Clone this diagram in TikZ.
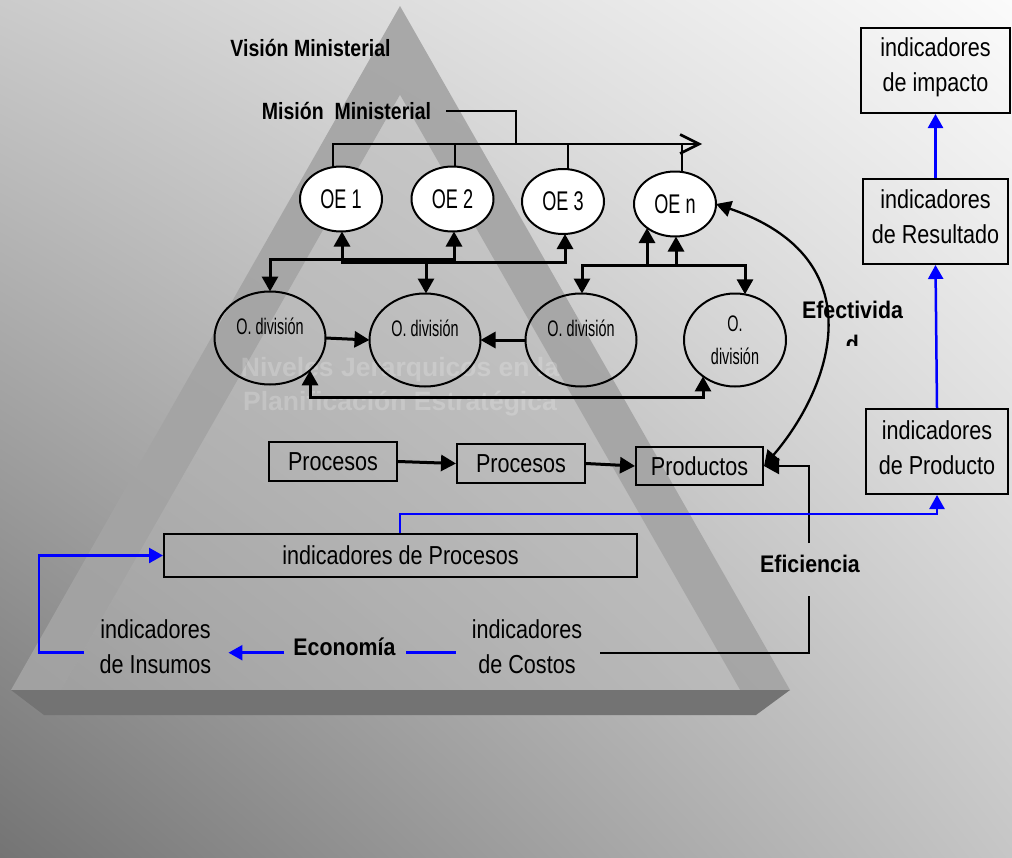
\documentclass[tikz,border=0pt]{standalone}
\usepackage{fontspec}
\setmainfont{Liberation Sans}
\newfontfamily\boxfont{Liberation Sans}[FakeStretch=0.83]
\newfontfamily\headfont{Liberation Sans}[FakeStretch=0.83]
\newfontfamily\keyfont{Liberation Sans}[FakeStretch=0.89]
\newfontfamily\objfont{Liberation Sans}[FakeStretch=0.67]
\newfontfamily\divfont{Liberation Sans}[FakeStretch=0.64]
\usetikzlibrary{arrows.meta,shapes.geometric,shadings}

\definecolor{bgUL}{RGB}{203,203,203}
\definecolor{bgUR}{RGB}{251,251,251}
\definecolor{bgLL}{RGB}{116,116,116}
\definecolor{bgLR}{RGB}{198,198,198}
\definecolor{band}{RGB}{164,164,164}
\definecolor{face}{RGB}{185,185,185}
\definecolor{slab}{RGB}{115,115,115}
\definecolor{ablue}{RGB}{0,0,255}

\tikzset{
  boxtext/.style={font=\boxfont\fontsize{26}{35}\selectfont, align=center, inner sep=0pt},
  ibox/.style={draw, line width=2pt, rectangle, inner sep=0pt},
  tbox/.style={ibox, boxtext},
  keylabel/.style={font=\keyfont\bfseries\fontsize{24}{28}\selectfont, inner sep=0pt},
  headlabel/.style={font=\headfont\bfseries\fontsize{23.5}{28}\selectfont, inner sep=0pt},
  objective/.style={ellipse, draw, line width=2pt, fill=white, inner sep=0pt, outer sep=0pt,
    minimum width=82pt, minimum height=65pt, font=\objfont\fontsize{27}{27}\selectfont},
  division/.style={ellipse, draw, line width=2pt, inner sep=0pt, outer sep=0pt,
    minimum width=111pt, minimum height=93pt, align=center, font=\divfont\fontsize{22.5}{33}\selectfont},
  watermark/.style={font=\bfseries\fontsize{26.5}{26.5}\selectfont, text=white, text opacity=0.2,
    anchor=base, inner sep=0pt},
  link/.style={line width=3pt},
  hair/.style={line width=2pt},
  arr/.style={-{Triangle[length=15pt,width=16pt]}},
  darr/.style={{Triangle[length=15pt,width=16pt]}-{Triangle[length=15pt,width=16pt]}},
  bline/.style={draw=ablue, line width=2.5pt},
  barr/.style={bline, -{Triangle[length=14pt,width=15pt]}},
}

\begin{document}
\begin{tikzpicture}[x=1pt,y=-1pt]
\useasboundingbox (0,0) rectangle (1012,857);

% backdrop
\shade[upper left=bgUL, upper right=bgUR, lower left=bgLL, lower right=bgLR] (0,0) rectangle (1012,857);

% pyramid: frame, front face and base slab
\fill[band, fill opacity=0.92, even odd rule]
  (400,6) -- (790,690) -- (11,690) -- cycle
  (400,95) -- (740,690) -- (61,690) -- cycle;
\fill[face, fill opacity=0.47] (400,95) -- (740,690) -- (61,690) -- cycle;
\fill[slab] (11,690) -- (790,690) -- (756,715) -- (44,715) -- cycle;

% title printed on the pyramid
\node[watermark] (wm1) at (400,376.5) {Niveles Jerarquicos en la};
\node[watermark] (wm2) at (400,410.5) {Planificación Estratégica};

% headings
\node[headlabel, anchor=base] (vision) at (310.5,56) {Visión Ministerial};
\node[headlabel, anchor=base] (mision) at (346.5,119) {Misión\ \ Ministerial};

% strategic objectives
\node[objective] (oe1) at (341,199) {OE 1};
\node[objective] (oe2) at (452.5,199) {OE 2};
\node[objective] (oe3) at (563,201.5) {OE 3};
\node[objective] (oen) at (675,204) {OE n};

% division objectives
\node[division] (d1) at (270,338) {\raisebox{4pt}[0pt][0pt]{O. división}};
\node[division] (d2) at (425,340) {\raisebox{4pt}[0pt][0pt]{O. división}};
\node[division] (d3) at (581,340) {\raisebox{4pt}[0pt][0pt]{O. división}};
\node[division, minimum width=102pt] (d4) at (735,340) {O.\\división};

% process chain
\node[tbox, minimum width=128pt, minimum height=39pt] (p1) at (333,461.5) {Procesos};
\node[tbox, minimum width=128pt, minimum height=39pt] (p2) at (521,463.5) {Procesos};
\node[tbox, minimum width=127pt, minimum height=38pt] (p3) at (699.5,466) {Productos};
\node[tbox, minimum width=473pt, minimum height=43pt] (ipro) at (400.5,555.5) {indicadores de Procesos};

% indicator column: frames and their two-line captions
\node[ibox, minimum width=149pt, minimum height=85pt] (iimp) at (935.5,70.5) {};
\node[ibox, minimum width=145pt, minimum height=85pt] (ires) at (935.5,221.5) {};
\node[ibox, minimum width=142pt, minimum height=85pt] (iprod) at (937,451.5) {};
\node[boxtext, anchor=north] (iimpT) at (935.5,37.5) {indicadores\\de impacto};
\node[boxtext, anchor=north] (iresT) at (935.5,189.3) {indicadores\\de Resultado};
\node[boxtext, anchor=north] (iprodT) at (937,420.5) {indicadores\\de Producto};

% free indicator labels
\node[boxtext, anchor=north] (ins) at (155.5,619.5) {indicadores\\de Insumos};
\node[boxtext, anchor=north] (cos) at (527,619.5) {indicadores\\de Costos};
\node[keylabel, anchor=base] (eco) at (344.5,655) {Economía};
\node[keylabel, anchor=base] (efi) at (810,572) {Eficiencia};
\node[keylabel, anchor=base] (efe) at (852.5,318) {Efectivida};
\begin{scope}
  \clip (800,322) rectangle (910,345);
  \node[keylabel, anchor=base] (efe2) at (852.5,352) {d};
\end{scope}

% mission line feeding the objectives
\coordinate (mjoin) at (516,144);
\coordinate (mtip) at (702,144);
\draw[hair] ([xshift=15pt]mision.east) -| (mjoin);
\draw[line width=2.6pt, -{Straight Barb[length=19pt,width=19pt]}] (333,144 |- oe1.north) |- (mtip);
\draw[hair] (455,144) -- (455,144 |- oe2.north);
\draw[hair] (568,144) -- (568,144 |- oe3.north);
\draw[hair] (682,144) -- (682,144 |- oen.north);

% objectives <-> divisions
\draw[link, darr] (454,259 |- oe2.south) -- (454,259) -- (270,259) -- (270,259 |- d1.north);
\draw[link, darr] (342,262 |- oe1.south) -- (342,262) -- (565,262) -- (565,262 |- oe3.south);
\draw[link, arr] (426,262) -- (426,262 |- d2.north);
\draw[link, darr] (582,265 |- d3.north) -- (582,265) -- (745,265) -- (745,265 |- d4.78);
\draw[link, arr] (647,265) -- (647,265 |- oen.221);
\draw[link, arr] (676,265) -- (676,265 |- oen.south);

% links between divisions
\draw[link, arr] (d1.east) -- (d2.west);
\draw[link, arr] (d3.west) -- (d2.east);
\draw[link, darr] (310,397 |- d1.321) -- (310,397) -- (703,397) -- (703,397 |- d4.229);

% process chain arrows
\draw[link, arr] (p1.east) -- (p2.west);
\draw[link, arr] (p2.east) -- (p3.west);

% effectiveness loop
\draw[line width=2.3pt, darr] (p3.east) .. controls (831,388) and (877.6,259) .. (oen.east);

% efficiency path
\coordinate (efTop) at (809,543);
\coordinate (efBot) at (809,596);
\coordinate (cosR) at (600,652.7);
\draw[hair] (cosR) -| (efBot);
\draw[hair, arr] (efTop) |- (p3.east);

% economy path
\coordinate (ecoR) at (406,652.7);
\coordinate (ecoL) at (284,652.7);
\coordinate (loopX) at (39,652.7);
\draw[bline, shorten <=16pt] (ecoR -| cos.west) -- (ecoR);
\draw[barr, shorten >=17pt] (ecoL) -- (ecoL -| ins.east);
\draw[barr, shorten <=16pt] (ecoL -| ins.west) -- (loopX) |- (ipro.west);

% indicator chain
\coordinate (upPro) at (400,514);
\draw[barr] (upPro |- ipro.north) -- (upPro) -| (iprod.south);
\draw[barr] (iprod.north) -- (ires.south);
\draw[barr] (ires.north) -- (iimp.south);
\end{tikzpicture}
\end{document}
